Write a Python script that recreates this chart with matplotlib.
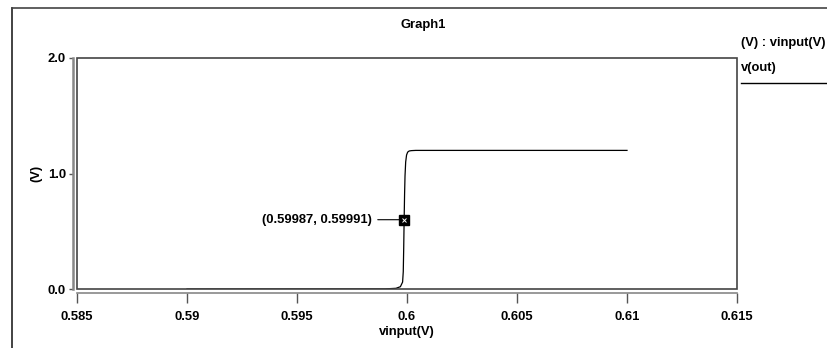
import matplotlib
matplotlib.use('Agg')
import matplotlib.pyplot as plt
from matplotlib.lines import Line2D

plt.rcParams['font.family'] = ['Liberation Sans', 'DejaVu Sans']
plt.rcParams['font.weight'] = 'bold'
plt.rcParams['font.size'] = 9.4

# v(out) vs vinput
vinput = [0.590, 0.5990, 0.5995, 0.5997, 0.5998, 0.59983, 0.59985, 0.59987,
          0.59989, 0.59991, 0.59994, 0.59998, 0.60003, 0.6001, 0.6002,
          0.6004, 0.6010, 0.610]
vout = [0.000, 0.001, 0.006, 0.02, 0.06, 0.15, 0.35, 0.60,
        0.82, 0.98, 1.10, 1.16, 1.185, 1.195, 1.198,
        1.20, 1.20, 1.20]

marker_x = 0.59987
marker_y = 0.59991

xticks = [0.585, 0.59, 0.595, 0.6, 0.605, 0.61, 0.615]
xtick_labels = ['0.585', '0.59', '0.595', '0.6', '0.605', '0.61', '0.615']
yticks = [0.0, 1.0, 2.0]
ytick_labels = ['0.0', '1.0', '2.0']

W, H = 827, 348
fig = plt.figure(figsize=(W / 100, H / 100), dpi=100)

# axes box in pixels: left 77, right 737, top 58, bottom 289
ax = fig.add_axes([77 / W, (H - 289) / H, 660 / W, 231 / H])
ax.plot(vinput, vout, color='black', lw=0.9)
ax.plot([marker_x], [marker_y], marker='s', ms=6.5, color='black', zorder=5)
ax.plot([marker_x], [marker_y], marker='x', ms=3.5, mew=0.7, color='white', zorder=6)

ax.annotate('(0.59987, 0.59991)', xy=(marker_x, marker_y), xytext=(-23, 0),
            textcoords='offset points', ha='right', va='center',
            fontweight='bold',
            arrowprops=dict(arrowstyle='-', color='black', lw=0.8, shrinkA=2, shrinkB=0))

ax.set_xlim(0.585, 0.615)
ax.set_ylim(0.0, 2.0)
ax.set_xticks(xticks)
ax.set_xticklabels(xtick_labels)
ax.set_yticks(yticks)
ax.set_yticklabels(ytick_labels)

# box drawn as a rectangle, axis lines pushed outward
box = plt.Rectangle((0, 0), 1, 1, transform=ax.transAxes, fill=False,
                    edgecolor='#444444', lw=1.2, clip_on=False, zorder=4)
ax.add_patch(box)
ax.spines['top'].set_visible(False)
ax.spines['right'].set_visible(False)
ax.spines['left'].set_position(('outward', 3))
ax.spines['bottom'].set_position(('outward', 3))
ax.spines['left'].set_color('#888888')
ax.spines['bottom'].set_color('#888888')
ax.spines['left'].set_linewidth(1.8)
ax.spines['bottom'].set_linewidth(1.2)
ax.tick_params(axis='x', direction='out', length=7, width=1, color='#555555', pad=6)
ax.tick_params(axis='y', direction='out', length=3, width=1, color='#555555', pad=2)

ax.set_xlabel('vinput(V)', fontweight='bold', labelpad=2)
ax.set_ylabel('(V)', fontweight='bold', labelpad=4)

fig.text(423 / W, 1 - 25 / H, 'Graph1', ha='center', va='center', fontweight='bold')

# legend on the right
fig.text(741 / W, 1 - 43 / H, '(V) : vinput(V)', ha='left', va='center', fontweight='bold')
fig.text(741 / W, 1 - 68 / H, 'v(out)', ha='left', va='center', fontweight='bold')
fig.add_artist(Line2D([741 / W, 1.0], [1 - 83 / H, 1 - 83 / H], color='black', lw=1))

# outer frame
fig.add_artist(Line2D([11.5 / W, 11.5 / W], [0, 1 - 8 / H], color='#222222', lw=1.2))
fig.add_artist(Line2D([11.5 / W, 1.0], [1 - 8 / H, 1 - 8 / H], color='#444444', lw=1.2))

fig.savefig('out.png', dpi=100)
